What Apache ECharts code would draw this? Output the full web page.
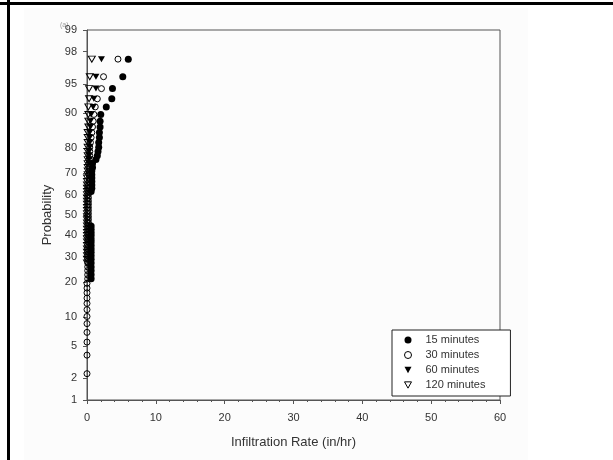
<!DOCTYPE html>
<html>
<head>
<meta charset="utf-8">
<script src="https://cdn.jsdelivr.net/npm/echarts@6/dist/echarts.min.js"></script>
<style>html,body{margin:0;padding:0;background:#fff}#c{width:613px;height:460px}</style>
</head>
<body>
<div id="c"></div>
<script>
// Plotting positions (probability, %) shared by all series, top to bottom
var PROB = [97.5,95.9,94.4,92.8,91.3,89.7,88.1,86.6,85.0,83.5,
            81.9,80.3,78.8,77.2,75.7,74.1,72.5,71.0,69.4,67.9,
            66.3,64.7,63.2,61.6,60.1,58.5,56.9,55.4,53.8,52.3,
            50.7,49.1,47.6,46.0,44.5,42.9,41.3,39.8,38.2,36.7,
            35.1,33.5,32.0,30.4,28.9,27.3,25.7,24.2,22.6,21.1,
            19.5,17.9,16.4,14.8,13.3,11.7,10.1,8.6,7.0,5.5,
            3.9,2.3];
var _ = null;
// Infiltration rate (in/hr) for each plotting position, per series
var RATE_15 = [6.0,5.2,3.7,3.6,2.8,2.0,1.9,1.9,1.8,1.8,
               1.7,1.7,1.6,1.5,1.3,0.8,0.8,0.7,0.7,0.7,
               0.7,0.7,0.7,0.6,_,_,_,_,_,_,
               _,_,_,_,0.6,0.6,0.6,0.6,0.6,0.6,
               0.6,0.6,0.6,0.6,0.6,0.6,0.6,0.6,0.6,0.6,
               _,_,_,_,_,_,_,_,_,_,
               _,_];
var RATE_30 = [4.5,2.4,2.1,1.5,1.2,1.0,0.9,0.8,0.7,0.6,
               0.5,0.4,0.4,0.4,0.3,0.3,0.3,0.3,0.3,0.3,
               0.3,0.2,0.2,0.2,0.2,0.2,0.2,0.2,0.2,0.2,
               0.2,0.2,0.2,0.2,0.2,0.2,0.2,0.2,0.2,0.2,
               0.1,0.1,0.1,0.1,0.1,0.1,0.1,0.1,0.1,0.1,
               0.0,0.0,0.0,0.0,0.0,0.0,0.0,0.0,0.0,0.0,
               0.0,0.0];
var RATE_60 = [2.1,1.3,1.3,1.0,0.9,0.6,0.5,0.5,0.4,0.4,
               0.4,0.4,0.3,0.3,0.3,0.3,_,_,_,_,
               _,_,_,_,_,_,_,_,_,_,
               _,_,_,_,_,_,_,_,_,_,
               _,_,_,_,_,_,_,_,_,_,
               _,_,_,_,_,_,_,_,_,_,
               _,_];
var RATE_120 = [0.7,0.4,0.3,0.3,0.2,0.2,0.2,0.2,0.1,0.1,
                0.1,0.1,0.1,0.1,0.1,0.1,0.1,0.1,0.1,0.0,
                0.0,0.0,0.0,0.0,0.0,0.0,0.0,0.0,0.0,0.0,
                0.0,0.0,0.0,0.0,0.0,0.0,0.0,0.0,0.0,0.0,
                0.0,0.0,0.0,0.0,0.0,0.0,_,_,_,_,
                _,_,_,_,_,_,_,_,_,_,
                _,_];
var SERIES_NAMES = ['15 minutes','30 minutes','60 minutes','120 minutes'];
var Y_TICKS = [1,2,5,10,20,30,40,50,60,70,80,90,95,98,99];
var X_MIN = 0, X_MAX = 60, X_STEP = 10;

// inverse standard normal CDF (Acklam)
function probit(p){
  var a=[-3.969683028665376e+01,2.209460984245205e+02,-2.759285104469687e+02,1.383577518672690e+02,-3.066479806614716e+01,2.506628277459239e+00];
  var b=[-5.447609879822406e+01,1.615858368580409e+02,-1.556989798598866e+02,6.680131188771972e+01,-1.328068155288572e+01];
  var c=[-7.784894002430293e-03,-3.223964580411365e-01,-2.400758277161838e+00,-2.549732539343734e+00,4.374664141464968e+00,2.938163982698783e+00];
  var d=[7.784695709041462e-03,3.224671290700398e-01,2.445134137142996e+00,3.754408661907416e+00];
  var pl=0.02425, q, r;
  if(p<pl){q=Math.sqrt(-2*Math.log(p));return (((((c[0]*q+c[1])*q+c[2])*q+c[3])*q+c[4])*q+c[5])/((((d[0]*q+d[1])*q+d[2])*q+d[3])*q+1);}
  if(p>1-pl){q=Math.sqrt(-2*Math.log(1-p));return -(((((c[0]*q+c[1])*q+c[2])*q+c[3])*q+c[4])*q+c[5])/((((d[0]*q+d[1])*q+d[2])*q+d[3])*q+1);}
  q=p-0.5;r=q*q;return (((((a[0]*r+a[1])*r+a[2])*r+a[3])*r+a[4])*r+a[5])*q/(((((b[0]*r+b[1])*r+b[2])*r+b[3])*r+b[4])*r+1);
}
function build(rates){
  var out=[];
  for(var i=0;i<PROB.length;i++){ if(rates[i]!=null) out.push([rates[i], probit(PROB[i]/100)]); }
  return out;
}
var yTickZ = Y_TICKS.map(function(v){return probit(v/100);});
function zLabel(z){
  var best=0,bd=1e9;
  for(var i=0;i<yTickZ.length;i++){var dd=Math.abs(yTickZ[i]-z);if(dd<bd){bd=dd;best=i;}}
  return String(Y_TICKS[best]);
}
var TRI = 'path://M0,0L10,0L5,9Z';
var FONT = 'Liberation Sans, Arial, sans-serif';
var chart = echarts.init(document.getElementById('c'), null, {renderer:'canvas'});
chart.setOption({
  animation:false,
  backgroundColor:'#fff',
  textStyle:{fontFamily:FONT},
  graphic:[
    {type:'rect', shape:{x:24,y:8,width:504,height:452}, style:{fill:'#fcfcfc'}, silent:true, z:-10},
    {type:'rect', shape:{x:0,y:2,width:613,height:3}, style:{fill:'#000'}, silent:true},
    {type:'rect', shape:{x:7,y:0,width:3,height:460}, style:{fill:'#000'}, silent:true},
    {type:'text', left:60, top:22, style:{text:'(a)', fontSize:7, fill:'#999', fontFamily:FONT}}
  ],
  grid:{left:87, right:113, top:30, bottom:60, show:true, borderColor:'#555', borderWidth:1, backgroundColor:'transparent'},
  legend:{
    orient:'vertical', left:392, top:330,
    itemWidth:7, itemHeight:7, itemGap:3,
    padding:[4,25,5,12],
    borderColor:'#222', borderWidth:1, backgroundColor:'#fff',
    itemStyle:{borderWidth:1},
    textStyle:{fontSize:11, lineHeight:12, color:'#333', fontFamily:FONT, padding:[0,0,0,9]},
    data:SERIES_NAMES
  },
  xAxis:{
    type:'value', min:X_MIN, max:X_MAX, interval:X_STEP,
    name:'Infiltration Rate (in/hr)', nameLocation:'middle', nameGap:36,
    nameTextStyle:{fontSize:13, color:'#333', fontFamily:FONT},
    axisLine:{onZero:false, lineStyle:{color:'#555', width:1}},
    axisTick:{show:true, length:4, lineStyle:{color:'#555'}},
    minorTick:{show:true, splitNumber:5, length:2, lineStyle:{color:'#555'}},
    axisLabel:{fontSize:11, color:'#333', margin:12, fontFamily:FONT},
    splitLine:{show:false}
  },
  yAxis:{
    type:'value', min:probit(0.01), max:probit(0.99),
    name:'Probability', nameLocation:'middle', nameGap:33, nameRotate:90,
    nameTextStyle:{fontSize:13, color:'#333', fontFamily:FONT},
    axisLine:{show:true, onZero:false, lineStyle:{color:'#555', width:1}},
    axisTick:{show:true, length:4, customValues:yTickZ, lineStyle:{color:'#555'}},
    axisLabel:{fontSize:11, color:'#333', margin:10, customValues:yTickZ, formatter:function(v){return zLabel(v);}, fontFamily:FONT},
    splitLine:{show:false}
  },
  series:[
    {name:SERIES_NAMES[0], type:'scatter', symbol:'circle', symbolSize:7,
     itemStyle:{color:'#000', opacity:1}, data:build(RATE_15)},
    {name:SERIES_NAMES[1], type:'scatter', symbol:'circle', symbolSize:6,
     itemStyle:{color:'rgba(255,255,255,0)', borderColor:'#000', borderWidth:1, opacity:1}, data:build(RATE_30)},
    {name:SERIES_NAMES[2], type:'scatter', symbol:TRI, symbolSize:[7,6],
     itemStyle:{color:'#000', opacity:1}, data:build(RATE_60)},
    {name:SERIES_NAMES[3], type:'scatter', symbol:TRI, symbolSize:[7,6],
     itemStyle:{color:'rgba(255,255,255,0)', borderColor:'#000', borderWidth:1, opacity:1}, data:build(RATE_120)}
  ]
});
</script>
</body>
</html>
